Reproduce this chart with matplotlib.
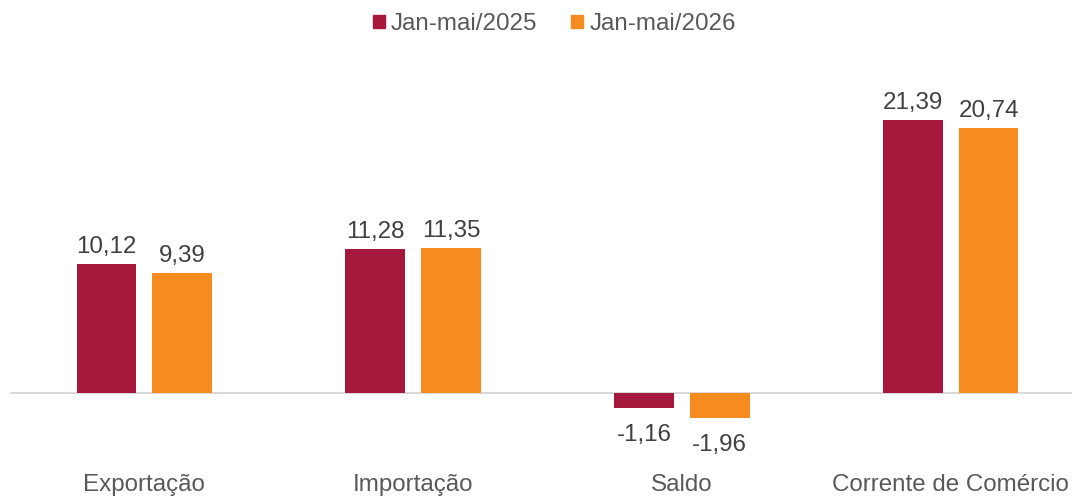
import matplotlib
matplotlib.use("Agg")
from matplotlib import pyplot as plt
from matplotlib.patches import Patch
import numpy as np

plt.rcParams['font.family'] = ['Liberation Sans', 'DejaVu Sans']

categories = ['Exportação', 'Importação', 'Saldo', 'Corrente de Comércio']
series_names = ['Jan-mai/2025', 'Jan-mai/2026']
values_2025 = [10.12, 11.28, -1.16, 21.39]
values_2026 = [9.39, 11.35, -1.96, 20.74]

colors = ['#A6193C', '#F68B1F']
fs = 17.4

fig = plt.figure(figsize=(10.72, 4.96), dpi=100)
ax = fig.add_axes([10 / 1072, 0.1305, 1075 / 1072, 0.6945])

x = np.arange(len(categories))
width = 0.223
offset = 0.141

for vals, sign, color in [(values_2025, -1, colors[0]), (values_2026, 1, colors[1])]:
    bars = ax.bar(x + sign * offset, vals, width, color=color)
    for b, v in zip(bars, vals):
        label = f'{v:.2f}'.replace('.', ',')
        dy = 12.5 if v >= 0 else -19.4
        ax.annotate(label, (b.get_x() + b.get_width() / 2, v), xytext=(0, dy),
                    textcoords='offset points', ha='center', va='center',
                    fontsize=fs, color='#404040')

ax.set_xlim(-0.5, 3.5)
ax.set_ylim(-3, 24)
ax.axhline(0, color='#D9D9D9', linewidth=1.5, zorder=0)
for s in ax.spines.values():
    s.set_visible(False)
ax.set_xticks([])
ax.set_yticks([])

# category labels sit at the bottom of the figure, not at the zero line
trans = matplotlib.transforms.blended_transform_factory(ax.transData, fig.transFigure)
for xi, c in zip(x, categories):
    ax.text(xi, 1 - 485 / 496, c, transform=trans, ha='center', va='center',
            fontsize=fs, color='#595959')

handles = [Patch(color=colors[0], label=series_names[0]),
           Patch(color=colors[1], label=series_names[1])]
fig.legend(handles=handles, loc='center', bbox_to_anchor=(0.517, 1 - 24 / 496), ncol=2,
           frameon=False, fontsize=fs, handlelength=0.5, handleheight=0.5,
           handletextpad=0.25, columnspacing=1.4, labelcolor='#595959')

fig.savefig('out.png', dpi=100)
